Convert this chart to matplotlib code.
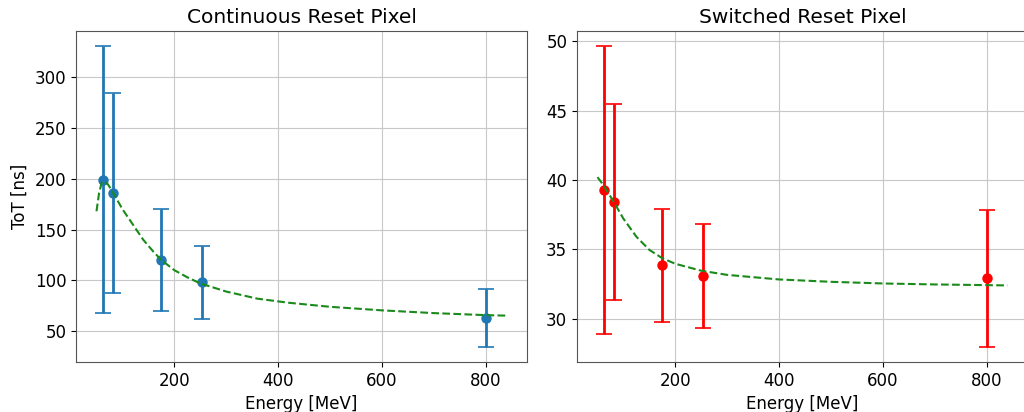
import numpy as np
import matplotlib
matplotlib.use("Agg")
import matplotlib.pyplot as plt

# -------------------------
# data
# -------------------------
energy = [62, 82, 175, 253, 800]

tot_cont = [199, 186, 120, 98, 63]
err_cont = [131.5, 98, 50, 36, 28.5]

tot_sw = [39.26, 38.42, 33.83, 33.06, 32.9]
err_sw = [10.4, 7.06, 4.05, 3.75, 4.95]

# fitted curves, sampled by eye
fit_x_cont = [50, 55, 60, 65, 72, 80, 90, 100, 120, 140, 160, 175, 200, 225,
              250, 300, 360, 420, 500, 600, 700, 800, 840]
fit_y_cont = [168, 186, 196, 197, 194.5, 188, 179, 170, 155, 140, 128, 120,
              110, 103, 97, 89, 82, 78, 74, 70.5, 67.8, 65.8, 65.3]

fit_x_sw = [50, 60, 70, 80, 100, 125, 150, 175, 200, 250, 300, 400, 500,
            600, 700, 800, 840]
fit_y_sw = [40.2, 39.7, 39.1, 38.5, 37.2, 35.9, 34.95, 34.35, 33.95, 33.45,
            33.15, 32.82, 32.65, 32.53, 32.46, 32.41, 32.39]

# -------------------------
# plot
# -------------------------
plt.rcParams["font.size"] = 12

fig = plt.figure(figsize=(10.24, 4.12), dpi=100)
W, H = 1024, 412
ax1 = fig.add_axes([76 / W, 50 / H, 451 / W, 331 / H])
ax2 = fig.add_axes([577 / W, 50 / H, 451 / W, 331 / H])

ax1.errorbar(energy, tot_cont, yerr=err_cont, fmt="o", color="#1f77b4",
             capsize=6, elinewidth=2, markersize=6.5, capthick=1.2, zorder=3)
ax1.plot(fit_x_cont, fit_y_cont, "--", color="#1a8a1a", linewidth=1.5, zorder=4)
ax1.set_title("Continuous Reset Pixel", fontsize=14.5)
ax1.set_xlabel("Energy [MeV]")
ax1.set_ylabel("ToT [ns]")
ax1.grid(True, color="#c8c8c8")

ax2.errorbar(energy, tot_sw, yerr=err_sw, fmt="o", color="red",
             capsize=6, elinewidth=2, markersize=6.5, capthick=1.2, zorder=3)
ax2.plot(fit_x_sw, fit_y_sw, "--", color="#1a8a1a", linewidth=1.5, zorder=4)
ax2.set_title("Switched Reset Pixel", fontsize=14.5)
ax2.set_xlabel("Energy [MeV]")
ax2.grid(True, color="#c8c8c8")

for ax in (ax1, ax2):
    ax.set_xticks([200, 400, 600, 800])
    for s in ax.spines.values():
        s.set_color("#555555")

fig.savefig("out.png", dpi=100)
